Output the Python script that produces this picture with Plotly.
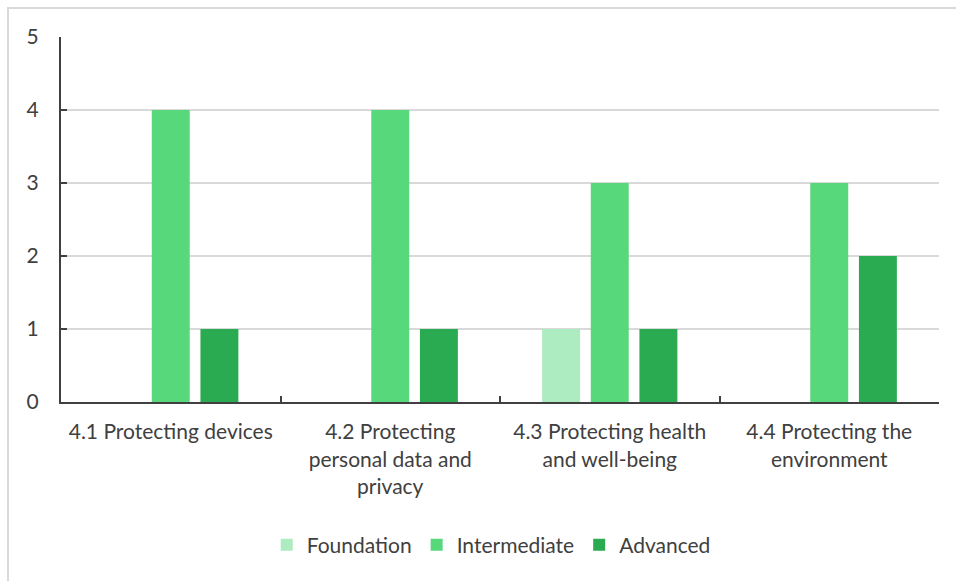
import plotly.graph_objects as go

categories = [
    "4.1 Protecting devices",
    "4.2 Protecting<br>personal data and<br>privacy",
    "4.3 Protecting health<br>and well-being",
    "4.4 Protecting the<br>environment",
]
foundation = [0, 0, 1, 0]
intermediate = [4, 4, 3, 3]
advanced = [1, 1, 1, 2]
y_ticks = [0, 1, 2, 3, 4, 5]

series = [
    ("Foundation", foundation, "#adebc0"),
    ("Intermediate", intermediate, "#57d87b"),
    ("Advanced", advanced, "#2bab51"),
]

FONT = "Lato, 'Open Sans', sans-serif"
TEXT = "#404040"
FS = 21

fig = go.Figure()
for name, vals, color in series:
    fig.add_trace(go.Bar(
        name=name, x=categories, y=vals,
        marker=dict(color=color, line=dict(width=0)),
    ))

W, H = 956, 581
L, R, T, B = 61, 17, 37, 179
pw, ph = W - L - R, H - T - B

fig.update_layout(
    width=W, height=H,
    margin=dict(l=L, r=R, t=T, b=B, autoexpand=False),
    paper_bgcolor="white", plot_bgcolor="white",
    barmode="group", bargap=0.335, bargroupgap=0.22,
    font=dict(family=FONT, size=FS, color=TEXT),
    showlegend=True,
    legend=dict(
        orientation="h", x=0.49, xanchor="center",
        y=(T + ph - 545) / ph, yanchor="middle",
        font=dict(size=FS, color=TEXT),
        itemwidth=30, traceorder="normal",
    ),
    xaxis=dict(
        showline=True, linecolor="#404040", linewidth=2,
        ticks="inside", ticklen=6, tickwidth=2, tickcolor="#404040",
        tickson="boundaries", showgrid=False,
        tickfont=dict(size=FS, color=TEXT),
        tickangle=0, automargin=False,
        ticklabelstandoff=10,
    ),
    yaxis=dict(
        range=[0, 5], tickvals=y_ticks,
        showline=True, linecolor="#404040", linewidth=2,
        ticks="inside", ticklen=6, tickwidth=2, tickcolor="#404040",
        showgrid=True, gridcolor="#d9d9d9", gridwidth=2,
        zeroline=False, ticklabelstandoff=16, automargin=False,
        tickfont=dict(size=FS, color=TEXT),
    ),
    shapes=[dict(
        type="rect", xref="paper", yref="paper",
        x0=(8 - L) / pw, x1=(W + 10 - L) / pw,
        y0=(T + ph - (H + 10)) / ph, y1=1 + (T - 8) / ph,
        line=dict(color="#d9d9d9", width=2), fillcolor="rgba(0,0,0,0)",
        layer="below",
    )],
)

fig.write_html("out.html")
